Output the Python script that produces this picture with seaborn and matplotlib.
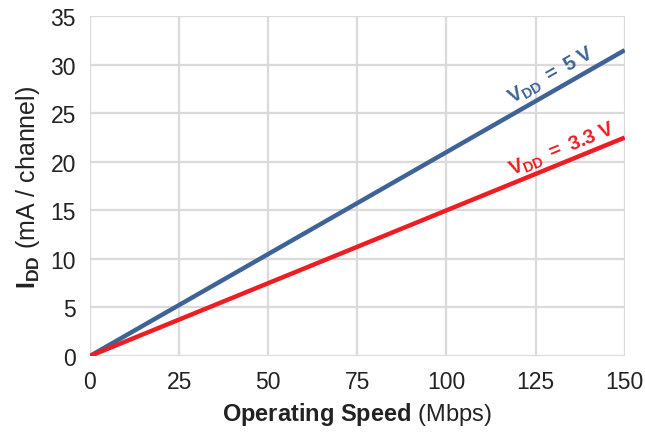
import matplotlib
matplotlib.use("Agg")
import matplotlib.pyplot as plt
import seaborn as sns
import pandas as pd
import numpy as np

speed = [0, 150]
idd_5v = [0, 31.5]
idd_33v = [0, 22.5]
series_names = ["VDD = 5 V", "VDD = 3.3 V"]
colors = ["#3E6396", "#EE1D23"]
x_ticks = [0, 25, 50, 75, 100, 125, 150]
y_ticks = [0, 5, 10, 15, 20, 25, 30, 35]

sns.set_style("white")
plt.rcParams['font.family'] = ['Liberation Sans', 'DejaVu Sans']
plt.rcParams['mathtext.fontset'] = 'custom'
plt.rcParams['mathtext.rm'] = 'Liberation Sans'
plt.rcParams['mathtext.bf'] = 'Liberation Sans:bold'
plt.rcParams['mathtext.it'] = 'Liberation Sans:italic'

df = pd.DataFrame({
    "speed": speed * 2,
    "idd": idd_5v + idd_33v,
    "series": [series_names[0]] * 2 + [series_names[1]] * 2,
})

fig = plt.figure(figsize=(6.45, 4.39), dpi=100)
ax = fig.add_axes([0.1395, 0.1868, 0.829, 0.774])
sns.lineplot(data=df, x="speed", y="idd", hue="series", palette=colors,
             linewidth=3.2, legend=False, ax=ax, solid_capstyle='butt')

ax.set_xlim(0, 150)
ax.set_ylim(0, 35)
ax.set_xticks(x_ticks)
ax.set_yticks(y_ticks)
ax.grid(True, color="#DADADA", linewidth=1.6)
ax.set_axisbelow(True)
for s in ax.spines.values():
    s.set_visible(False)
ax.tick_params(axis='both', which='major', labelsize=16.5, colors='#DADADA',
               labelcolor='#222222', length=6, width=1.6, direction='out', pad=4)

ax.set_xlabel(r"$\mathbf{Operating\ Speed}$ (Mbps)", fontsize=17, color='#222222', labelpad=5)
ax.set_ylabel(r"$\mathbf{I_{DD}}$ (mA / channel)", fontsize=18, color='#222222', labelpad=6)

ax.text(129.5, 29.0, r"$\mathbf{V_{DD}\ =\ 5\ V}$", color=colors[0], fontsize=14.5,
        rotation=np.degrees(np.arctan2(31.5 / 35 * 340, 535)), ha='center', va='center',
        rotation_mode='anchor')
ax.text(132.6, 21.3, r"$\mathbf{V_{DD}\ =\ 3.3\ V}$", color=colors[1], fontsize=14.5,
        rotation=np.degrees(np.arctan2(22.5 / 35 * 340, 535)), ha='center', va='center',
        rotation_mode='anchor')

fig.savefig("out.png", dpi=100)
